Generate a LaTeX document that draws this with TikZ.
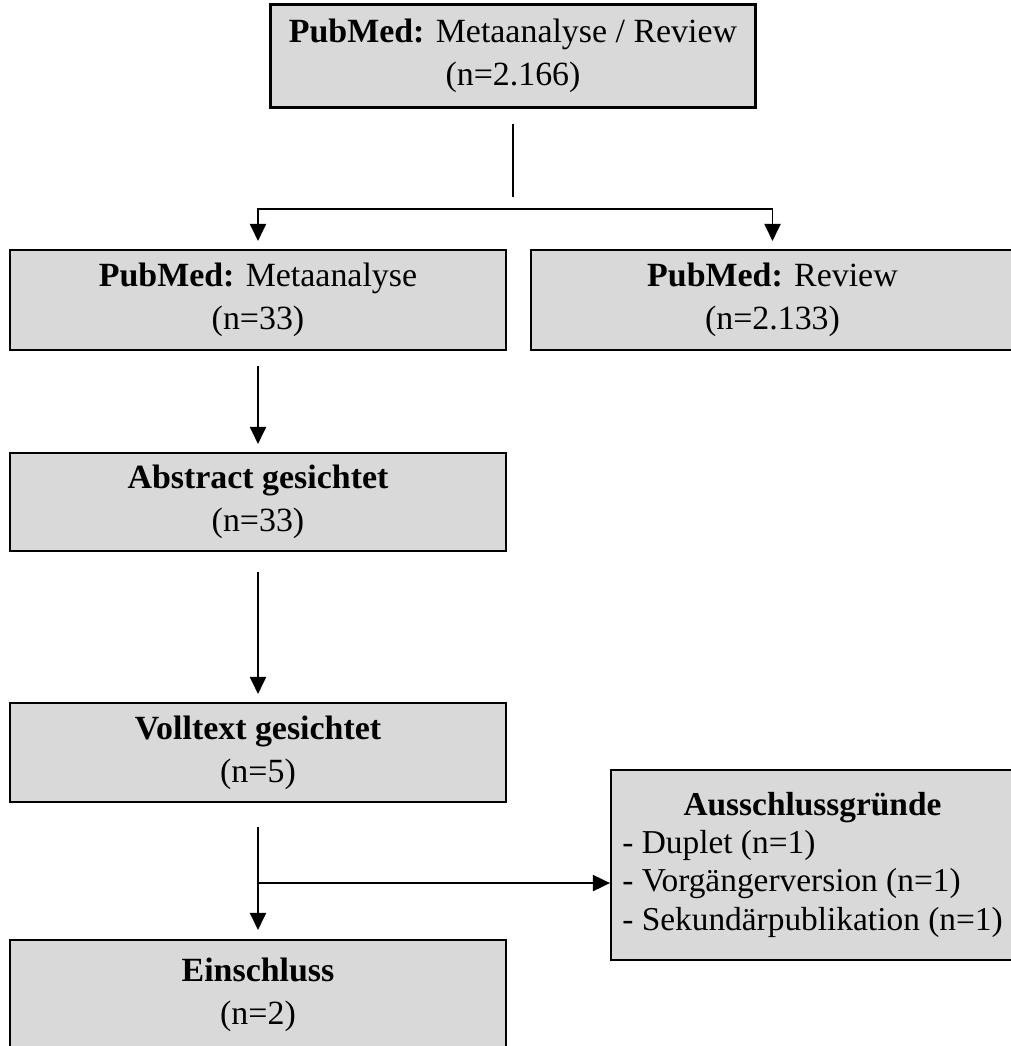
\documentclass[tikz,border=0pt]{standalone}
\usepackage{fontspec}
\setmainfont{Liberation Serif}
\usetikzlibrary{arrows.meta,positioning,calc}
\definecolor{boxgray}{RGB}{217,217,217}
\tikzset{
  flowbox/.style={draw=black,line width=1.2pt,fill=boxgray,align=center,inner sep=0pt,
    font=\fontsize{19.3}{24.5}\selectfont},
  flowline/.style={line width=1.1pt},
  flowarrow/.style={flowline,-{Triangle[length=0.34cm,width=0.32cm]}},
}

\begin{document}
\begin{tikzpicture}[x=0.02cm,y=-0.02cm]
\useasboundingbox (0,0) rectangle (1011,1046);
% search and the two result sets
\node[flowbox,minimum width=9.7cm,minimum height=2.06cm] (search) at (513,56) {\textbf{PubMed:} Metaanalyse / Review\\(n=2.166)};
\node[flowbox,minimum width=9.92cm,minimum height=2cm] (meta) at (258,300) {\textbf{PubMed:} Metaanalyse\\(n=33)};
\node[flowbox,minimum width=9.66cm,minimum height=2cm] (review) at (772.5,300) {\textbf{PubMed:} Review\\(n=2.133)};
% screening steps
\node[flowbox,minimum width=9.92cm,minimum height=1.96cm] (abstract) at (258,502) {\textbf{Abstract gesichtet}\\(n=33)};
\node[flowbox,minimum width=9.92cm,minimum height=1.98cm] (fulltext) at (258,752.5) {\textbf{Volltext gesichtet}\\(n=5)};
\node[flowbox,minimum width=9.92cm,minimum height=2.2cm] (incl) at (258,995) {\textbf{Einschluss}\\(n=2)};
\node[flowbox,minimum width=8.06cm,minimum height=3.8cm,font=\fontsize{19}{21.8}\selectfont] (excl) at (812.5,865) {%
  \begin{tabular}{@{}l@{}}
  \multicolumn{1}{@{}c@{}}{\textbf{Ausschlussgründe}}\\
  - Duplet (n=1)\\
  - Vorgängerversion (n=1)\\
  - Sekundärpublikation (n=1)
  \end{tabular}};
% connectors
\coordinate (split) at ($(search.south)+(0,100)$);
\coordinate (branch) at ($(fulltext.south)+(0,80)$);
\draw[flowline] ($(search.south)+(0,15)$) -- ($(split)+(0,-12)$);
\draw[flowarrow] (split) -| ($(meta.north)+(0,-8)$);
\draw[flowarrow] (split) -| ($(review.north)+(0,-8)$);
\draw[flowarrow] ($(meta.south)+(0,15)$) -- ($(abstract.north)+(0,-8)$);
\draw[flowarrow] ($(abstract.south)+(0,20)$) -- ($(fulltext.north)+(0,-8)$);
\draw[flowarrow] ($(fulltext.south)+(0,24)$) -- ($(incl.north)+(0,-9)$);
\draw[flowarrow] (branch) -- (branch -| excl.west);
\end{tikzpicture}
\end{document}
